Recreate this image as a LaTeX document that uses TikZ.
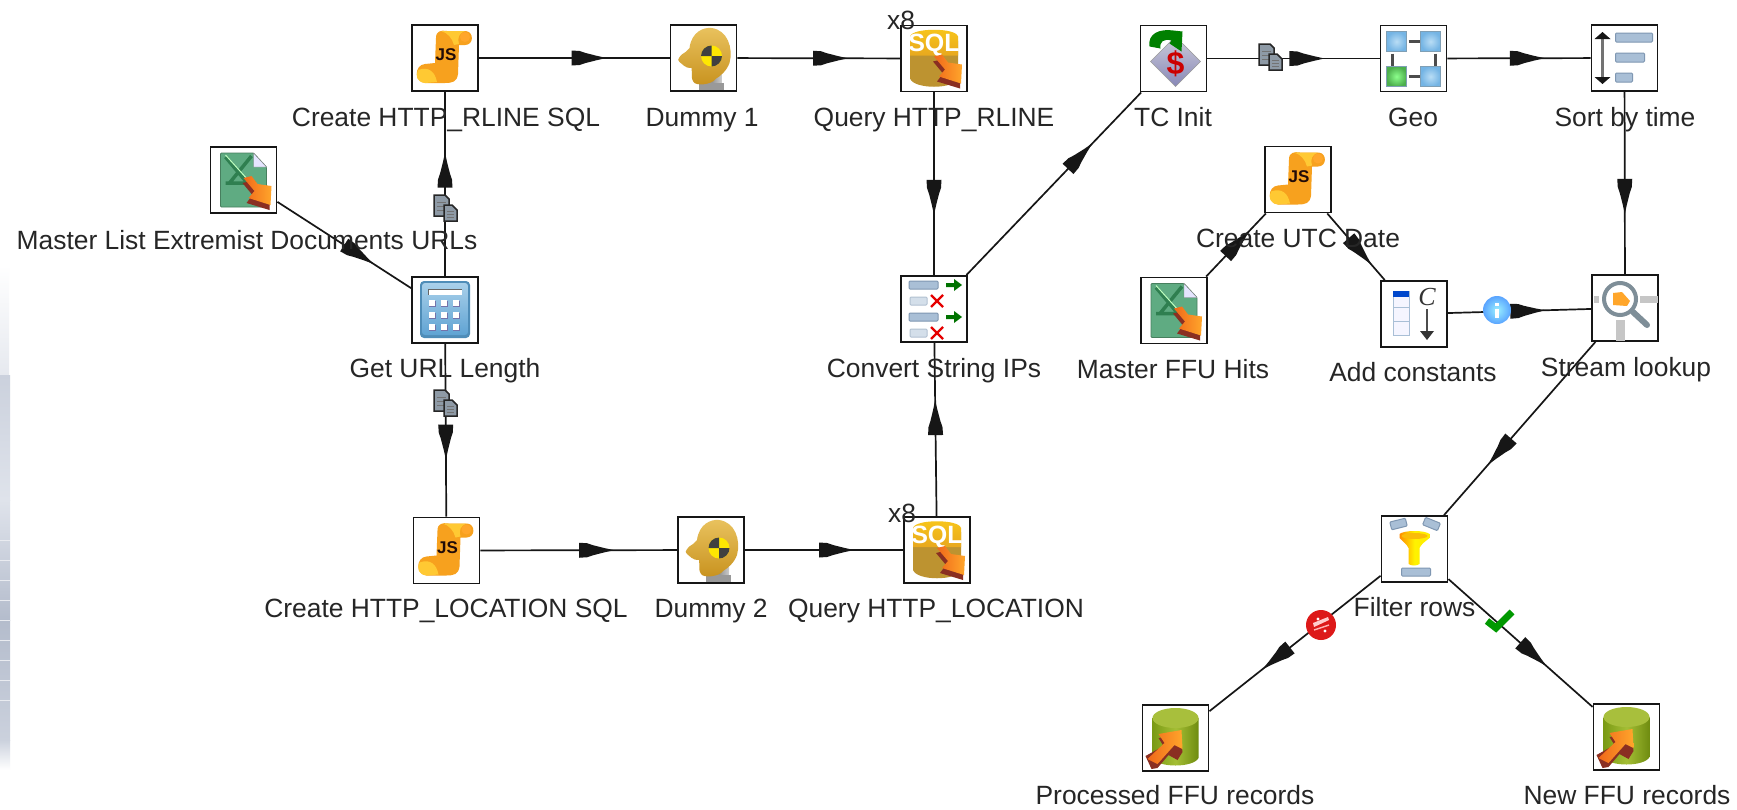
\documentclass[tikz,border=0pt]{standalone}
\usepackage{fontspec}
\setmainfont{Liberation Sans}
\newfontfamily\iconserif{Liberation Serif}
\usetikzlibrary{decorations.markings}
\definecolor{ink}{HTML}{161616}
\definecolor{txt}{HTML}{262626}
\definecolor{orgA}{HTML}{F0681A}
\definecolor{orgB}{HTML}{FFA62B}
\definecolor{orgD}{HTML}{8A2F22}
\definecolor{jsA}{HTML}{F7A11E}
\definecolor{jsB}{HTML}{FFC933}
\definecolor{barF}{HTML}{A9BFD6}
\definecolor{barD}{HTML}{7F97B2}
\definecolor{stripA}{HTML}{E6E9EF}
\definecolor{stripB}{HTML}{CBD1DD}
\definecolor{stripC}{HTML}{B4BCCC}
\definecolor{stripL}{HTML}{DFE3EB}
\definecolor{xlG}{HTML}{5FAB82}
\definecolor{xlD}{HTML}{2F7F50}
\definecolor{sqlT}{HTML}{F8C61A}
\definecolor{sqlM}{HTML}{E8A81E}
\definecolor{sqlB}{HTML}{BD9330}
\definecolor{headT}{HTML}{E9C25E}
\definecolor{headB}{HTML}{C8921E}
\definecolor{calD}{HTML}{4F8DB8}
\definecolor{calT}{HTML}{A9D0EA}
\definecolor{calB}{HTML}{5FA3D3}
\definecolor{cylL}{HTML}{7A9A14}
\definecolor{cylM}{HTML}{A4BE35}
\definecolor{cylR}{HTML}{6F8C10}
\definecolor{cylT}{HTML}{A8BF3C}
\definecolor{docF}{HTML}{8E9AA6}
\definecolor{geoO}{HTML}{7F9FB5}
\definecolor{geoI}{HTML}{B9DDF5}
\definecolor{geoE}{HTML}{74B4E4}
\definecolor{lensR}{HTML}{7E8E98}
\tikzset{
  stepbox/.style={rectangle,draw=ink,fill=white,line width=1.9pt,minimum size=66pt,inner sep=0pt},
  lbl/.style={font=\fontsize{26.4}{28}\selectfont,text=txt,inner sep=0pt,anchor=center,text height=18pt,text depth=0pt},
  flow/.style={draw=ink,line width=1.7pt,postaction={decorate},
    decoration={markings,mark=at position #1 with {
      \fill[ink] (0,0) -- (-10,2.2) -- (-21,5) -- (-27,7) -- (-35,7.5) -- (-35,-7.5) -- (-27,-7) -- (-21,-5) -- (-10,-2.2) -- cycle;}}},
  tbar/.style={fill=barF,draw=barD,line width=1pt,rounded corners=1pt},
  handin/.pic={
    \fill[orgD] (-1,3) -- (7,1) -- (13,9) -- (27,10) -- (26,30) -- (3,23) -- (9,15) -- cycle;
    \shade[left color=orgA,right color=orgB] (0,-2) -- (8,-4) -- (14,4) -- (28,6) -- (27,25) -- (5,18) -- (11,11) -- cycle;
  },
  jsicon/.pic={
    \fill[jsA] (-9,-20) .. controls (-9,-27) and (-4,-28) .. (2,-27) -- (21,-27)
      .. controls (29,-26) and (29,-13) .. (20,-13) -- (14,-13) -- (13,16)
      .. controls (12,24) and (7,25) .. (0,25) -- (-20,25)
      .. controls (-31,24) and (-31,7) .. (-20,6) -- (-10,5) -- cycle;
    \fill[jsB] (-4,-27) -- (20,-27) .. controls (14,-25) and (12,-20) .. (14,-14) -- (9,-13) .. controls (7,-20) and (3,-25) .. (-4,-27) -- cycle;
    \fill[jsB] (-27,12) .. controls (-16,8) and (-10,14) .. (-8,24) -- (-20,25) .. controls (-28,24) and (-30,18) .. (-27,12) -- cycle;
    \fill[orgB] (20,-21) circle (5);
    \node[inner sep=0pt,text=black!75!orgD,font=\fontsize{17}{17}\selectfont\bfseries] (jst) at (1,-3) {JS};
  },
  xlicon/.pic={
    \fill[xlG,draw=xlD!70!gray,line width=.8pt,rounded corners=1pt] (-23,-27) -- (10,-27) -- (23,-13) -- (23,27) -- (-23,27) -- cycle;
    \fill[blue!10!white,draw=gray] (10,-27) -- (23,-13) -- (10,-13) -- cycle;
    \draw[xlD,line width=3.5pt] (-18,-23) -- (8,8) (8,-24) -- (-14,3) (-18,3) -- (12,3);
    \draw[white!75!green,line width=1pt] (-18,-25) -- (10,6);
    \pic at (0,0) {handin};
  },
  sqlicon/.pic={
    \fill[sqlB] (-24,-18) -- (-24,20) .. controls (-20,31) and (20,31) .. (24,20) -- (24,-18) -- cycle;
    \shade[top color=sqlT,bottom color=sqlM] (-24,-22) .. controls (-22,-31) and (22,-31) .. (24,-22) -- (24,-3) -- (-24,-3) -- cycle;
    \node[inner sep=0pt,text=white,font=\fontsize{25}{25}\selectfont\bfseries] (sqt) at (0,-13) {SQL};
    \pic at (0,0) {handin};
  },
  dummyicon/.pic={
    \shade[left color=gray!70,right color=gray!40,middle color=gray!85] (-2,14) rectangle (18,31);
    \fill[gray!80] (-5,25) rectangle (20,32);
    \shade[top color=headT,bottom color=headB]
      (-14,-10) .. controls (-12,-26) and (0,-31) .. (8,-30)
      .. controls (24,-28) and (30,-10) .. (26,5)
      .. controls (23,13) and (17,18) .. (12,21)
      .. controls (8,27) and (-8,28) .. (-10,24)
      .. controls (-13,20) and (-11,15) .. (-12,10)
      .. controls (-20,10) and (-20,6) .. (-24,4)
      .. controls (-28,2) and (-22,-4) .. (-18,-6) -- cycle;
    \fill[yellow!90!orange] (8,-2) circle (10.5);
    \fill[black!75] (8,-2) -- (8,-12.5) arc[start angle=-90,delta angle=-90,radius=10.5] -- cycle;
    \fill[black!75] (8,-2) -- (8,8.5) arc[start angle=90,delta angle=-90,radius=10.5] -- cycle;
  },
  calcicon/.pic={
    \fill[calD,rounded corners=4pt] (-25,-29) rectangle (25,28);
    \shade[top color=calT,bottom color=calB,rounded corners=3pt] (-23,-27) rectangle (23,25);
    \fill[white] (-17,-21) rectangle (17,-15);
    \draw[black!60] (-17,-21) -- (17,-21) (-17,-21) -- (-17,-15);
    \foreach \bx in {-13,-1,11} \foreach \by in {-7,5,17}{
      \fill[blue!40!black!55] (\bx-3,\by-2) rectangle (\bx+4,\by+4);
      \fill[white] (\bx-3,\by-3) rectangle (\bx+3,\by+3);
    }
  },
  convicon/.pic={
    \foreach \ry in {-24,8}{
      \fill[tbar] (-25,\ry-4) rectangle (4,\ry+4);
      \fill[green!45!black] (12,\ry-2) -- (20,\ry-2) -- (20,\ry-6) -- (28,\ry) -- (20,\ry+6) -- (20,\ry+2) -- (12,\ry+2) -- cycle;
    }
    \foreach \ry in {-8,24}{
      \fill[tbar,fill=barF!50!white,draw=barD!60!white] (-24,\ry-4) rectangle (-7,\ry+4);
      \draw[red!90!black,line width=2.2pt] (-3,\ry-6) -- (9,\ry+6) (-3,\ry+6) -- (9,\ry-6);
    }
  },
  tcicon/.pic={
    \shade[top color=blue!15!gray!35!white,bottom color=blue!25!gray!75!white,draw=gray!80] (2,-22) -- (27,3) -- (2,28) -- (-23,3) -- cycle;
    \node[inner sep=0pt,text=red!80!black,font=\fontsize{32}{32}\selectfont\bfseries] (tcd) at (2,5) {\$};
    \fill[green!50!black] (-24,-12) .. controls (-26,-25) and (-14,-30) .. (0,-28) -- (9,-27) -- (8,-7) -- (-4,-15) -- (-2,-18) .. controls (-10,-20) and (-14,-17) .. (-13,-10) -- cycle;
  },
  geoicon/.pic={
    \draw[black!70,line width=3pt] (-5,-17) -- (8,-17) (-5,18) -- (8,18) (-21,-5) -- (-21,7) (22,-5) -- (22,7);
    \foreach \px/\py in {-17/-17,17/-17,17/18}{
      \shade[inner color=geoI,outer color=geoE,draw=geoO,line width=1.2pt] (\px-10,\py-10) rectangle (\px+10,\py+10);
    }
    \shade[inner color=green!45!white,outer color=green!55!black!70!white,draw=geoO,line width=1.2pt] (-27,8) rectangle (-7,28);
  },
  sorticon/.pic={
    \draw[black!55,line width=2.4pt] (-22,-20) -- (-22,20);
    \fill[ink] (-22,-26) -- (-14,-19) -- (-30,-19) -- cycle;
    \fill[ink] (-22,26) -- (-14,19) -- (-30,19) -- cycle;
    \fill[tbar] (-9,-25) rectangle (28,-16);
    \fill[tbar] (-9,-5) rectangle (20,4);
    \fill[tbar] (-9,15) rectangle (8,24);
  },
  lookicon/.pic={
    \fill[gray!45] (15,-12) rectangle (33,-5);
    \fill[gray!45] (-31,-12) rectangle (-26,-5);
    \fill[gray!45] (-9,12) rectangle (0,33);
    \draw[lensR,line width=6pt,line cap=round] (8,4) -- (22,17);
    \fill[white] (-5,-9) circle (16);
    \draw[lensR,line width=4pt] (-5,-9) circle (16);
    \fill[orgB] (-12,-15) -- (-3,-16) -- (5,-7) -- (2,-2) -- (-12,-3) -- cycle;
  },
  addicon/.pic={
    \fill[blue!4!white,draw=barF,line width=1pt] (-21,-23) rectangle (-5,21);
    \fill[blue!65!cyan!80!black] (-21,-23) rectangle (-5,-17);
    \draw[barF,line width=1pt] (-21,-7) -- (-5,-7) (-21,7) -- (-5,7);
    \node[inner sep=0pt,text=black!80,font=\fontsize{26}{26}\selectfont\iconserif\itshape] (adc) at (13,-17) {C};
    \draw[gray!60!black,line width=1.8pt] (13,-5) -- (13,20);
    \fill[black!80] (13,26) -- (6,17) -- (20,17) -- cycle;
  },
  filticon/.pic={
    \fill[tbar,rotate around={14:(-16,-25)}] (-24,-29) rectangle (-8,-21);
    \fill[tbar,rotate around={-22:(17,-25)}] (9,-29) rectangle (25,-21);
    \fill[tbar] (-13,19) rectangle (16,27);
    \shade[left color=orange!90!yellow,right color=yellow!85!orange,middle color=yellow!90!orange]
      (-15,-15) .. controls (-10,-19) and (10,-19) .. (15,-15) -- (15,-11) .. controls (10,-7) and (7,-5) .. (5,-1) -- (5,15) .. controls (2,17) and (-3,17) .. (-6,15) -- (-6,-1) .. controls (-8,-5) and (-11,-7) .. (-15,-11) -- cycle;
    \fill[yellow!50!orange] (0,-13) ellipse (13 and 3);
  },
  outicon/.pic={
    \shade[left color=cylL,right color=cylR,middle color=cylM] (-23,-20) -- (-23,20) .. controls (-18,30) and (18,30) .. (23,20) -- (23,-20) -- cycle;
    \fill[cylT] (0,-20) ellipse (23 and 10);
    \fill[orgD] (-24,31) -- (-30,18) -- (-12,8) -- (-17,0) -- (5,-3) -- (7,14) -- (2,22) -- (-7,17) -- (-18,30) -- cycle;
    \shade[left color=orgA,right color=orgB] (-28,21) -- (-11,5) -- (-17,-4) -- (6,-8) -- (7,11) -- (-1,7) -- (-18,26) -- cycle;
  },
  copyicon/.pic={
    \fill[docF,draw=black!85,line width=1.5pt] (-11,-13) -- (0,-13) -- (4,-9) -- (4,8) -- (-11,8) -- cycle;
    \draw[black!55,line width=.8pt] (-8,-6) -- (1,-6) (-8,-2) -- (1,-2) (-8,2) -- (1,2);
    \fill[docF,draw=black!85,line width=1.5pt] (-1,-3) -- (7,-3) -- (12,2) -- (12,13) -- (-1,13) -- cycle;
    \draw[black!55,line width=.8pt] (2,3) -- (9,3) (2,6) -- (9,6) (2,9) -- (9,9);
  },
  infoicon/.pic={
    \shade[inner color=blue!15!cyan!40!white,outer color=blue!55!cyan!65!white] (0,0) circle (14);
    \fill[white] (-1.6,-7) rectangle (1.6,-4);
    \fill[white] (-1.6,-1) rectangle (1.6,8);
  },
  stopicon/.pic={
    \fill[red!85!black!90!white] (0,0) circle (15);
    \fill[red!20!white] (-8,-2) -- (7,-8) -- (8,-5) -- (-7,2) -- cycle;
    \fill[white] (-3,-6) circle (1.6) (4,6) circle (1.6);
    \draw[white!70!red,line width=1.4pt] (-7,5) -- (8,0);
  },
  checkicon/.pic={
    \draw[green!60!black,line width=7pt] (-12,0) -- (-3,7) -- (13,-9);
  }
}
\begin{document}
\begin{tikzpicture}[x=1pt,y=-1pt]
\fill[white] (0,0) rectangle (1737,809);
\useasboundingbox (0,0) rectangle (1737,809);
% scanner residue along the left edge
\shade[top color=white,bottom color=stripA] (0,265) rectangle (9,375);
\shade[top color=stripB,bottom color=stripL] (0,375) rectangle (10,500);
\shade[top color=stripL,bottom color=stripC] (0,500) rectangle (10,620);
\shade[top color=stripC,bottom color=stripB] (0,620) rectangle (10,740);
\shade[top color=stripB,bottom color=white] (0,740) rectangle (10,770);
\foreach \sy in {540,560,580,600,620,640,660,680,700}{\draw[white!70!stripC,line width=.8pt] (0,\sy) -- (10,\sy);}
% step boxes
\node[stepbox] (js1) at (445,58) {};
\node[stepbox] (dm1) at (703.5,58) {};
\node[stepbox] (qr1) at (934,58.5) {};
\node[stepbox] (tci) at (1173.5,58.5) {};
\node[stepbox] (geo) at (1413.5,58.5) {};
\node[stepbox] (srt) at (1624.5,58) {};
\node[stepbox] (xl1) at (243.5,180) {};
\node[stepbox] (utc) at (1298,179.5) {};
\node[stepbox] (clc) at (445,310) {};
\node[stepbox] (cvt) at (934,309) {};
\node[stepbox] (xl2) at (1174,310.5) {};
\node[stepbox] (add) at (1414,314) {};
\node[stepbox] (lkp) at (1625,308) {};
\node[stepbox] (js2) at (446.5,550.5) {};
\node[stepbox] (dm2) at (711,550) {};
\node[stepbox] (qr2) at (937,550) {};
\node[stepbox] (flt) at (1414.5,549) {};
\node[stepbox] (prc) at (1175.5,738) {};
\node[stepbox] (nwr) at (1626.5,737) {};
% connectors
\draw[flow=.67] (clc) -- (js1);
\draw[flow=.67] (clc) -- (js2);
\draw[flow=.72] (xl1) -- (clc);
\draw[flow=.67] (js1) -- (dm1);
\draw[flow=.68] (dm1) -- (qr1);
\draw[flow=.67] (qr1) -- (cvt);
\draw[flow=.67] (qr2) -- (cvt);
\draw[flow=.68] (js2) -- (dm2);
\draw[flow=.69] (dm2) -- (qr2);
\draw[flow=.72] (cvt) -- (tci);
\draw[flow=.68] (tci) -- (geo);
\draw[flow=.68] (geo) -- (srt);
\draw[flow=.67] (srt) -- (lkp);
\draw[flow=.73] (xl2) -- (utc);
\draw[flow=.77] (utc) -- (add);
\draw[flow=.68] (add) -- (lkp);
\draw[flow=.71] (lkp) -- (flt);
\draw[flow=.69] (flt) -- (prc);
\draw[flow=.68] (flt) -- (nwr);
% step icons
\pic at (js1) {jsicon};
\pic at (js2) {jsicon};
\pic at (utc) {jsicon};
\pic at (xl1) {xlicon};
\pic at (xl2) {xlicon};
\pic at (qr1) {sqlicon};
\pic at (qr2) {sqlicon};
\pic at (dm1) {dummyicon};
\pic at (dm2) {dummyicon};
\pic at (clc) {calcicon};
\pic at (cvt) {convicon};
\pic at (tci) {tcicon};
\pic at (geo) {geoicon};
\pic at (srt) {sorticon};
\pic at (lkp) {lookicon};
\pic at (add) {addicon};
\pic at (flt) {filticon};
\pic at (prc) {outicon};
\pic at (nwr) {outicon};
% hop icons
\pic at (445,208) {copyicon};
\pic at (445,403) {copyicon};
\pic at (1270,57) {copyicon};
\pic at (1497,310) {infoicon};
\pic at (1321,625) {stopicon};
\pic at (1499,621) {checkicon};
% labels
\node[lbl] (t01) at (446,117) {Create HTTP\_RLINE SQL};
\node[lbl] (t02) at (702,117) {Dummy 1};
\node[lbl] (t03) at (934,117) {Query HTTP\_RLINE};
\node[lbl] (t04) at (1173,117) {TC Init};
\node[lbl] (t05) at (1413,117) {Geo};
\node[lbl] (t06) at (1625,117) {Sort by time};
\node[lbl] (t07) at (247,240) {Master List Extremist Documents URLs};
\node[lbl] (t08) at (1298,238) {Create UTC Date};
\node[lbl] (t09) at (445,368) {Get URL Length};
\node[lbl] (t10) at (934,368) {Convert String IPs};
\node[lbl] (t11) at (1173,369) {Master FFU Hits};
\node[lbl] (t12) at (1413,372) {Add constants};
\node[lbl] (t13) at (1626,367) {Stream lookup};
\node[lbl] (t14) at (446,608) {Create HTTP\_LOCATION SQL};
\node[lbl] (t15) at (711,608) {Dummy 2};
\node[lbl] (t16) at (936,608) {Query HTTP\_LOCATION};
\node[lbl] (t17) at (1414.5,607) {Filter rows};
\node[lbl] (t18) at (1175,795) {Processed FFU records};
\node[lbl] (t19) at (1627,795) {New FFU records};
\node[lbl] (t20) at (901,20) {x8};
\node[lbl] (t21) at (902,513) {x8};
\end{tikzpicture}
\end{document}
